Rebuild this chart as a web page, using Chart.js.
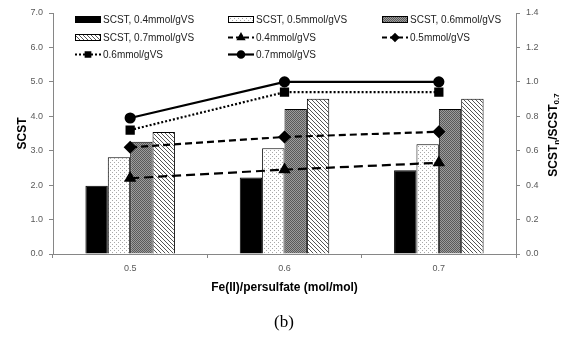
<!DOCTYPE html>
<html>
<head>
<meta charset="utf-8">
<script src="https://cdn.jsdelivr.net/npm/chart.js@4"></script>
<style>
  html, body { margin: 0; padding: 0; background: #fff; }
  #wrap { width: 580px; height: 344px; }
</style>
</head>
<body>
<div id="wrap"><canvas id="myChart"></canvas></div>
<script>
const categories = ['0.5', '0.6', '0.7'];
const scst04 = [1.98, 2.22, 2.43];
const scst05 = [2.81, 3.07, 3.19];
const scst06 = [3.26, 4.21, 4.21];
const scst07 = [3.54, 4.51, 4.51];
const ratio04 = [0.44, 0.49, 0.53];
const ratio05 = [0.62, 0.68, 0.71];
const ratio06 = [0.72, 0.94, 0.94];
const ratio07 = [0.79, 1.00, 1.00];
const leftTicks = [0, 1, 2, 3, 4, 5, 6, 7];
const rightTicks = [0, 0.2, 0.4, 0.6, 0.8, 1.0, 1.2, 1.4];

const font = "'Liberation Sans', Arial, sans-serif";
const tickColor = '#595959';
const axisColor = '#868686';

function makePattern(size, draw) {
  const c = document.createElement('canvas');
  c.width = size; c.height = size;
  const g = c.getContext('2d');
  draw(g);
  return g.createPattern(c, 'repeat');
}
const dotted = makePattern(4, g => {
  g.fillStyle = '#fff'; g.fillRect(0, 0, 4, 4);
  g.fillStyle = '#a8a8a8';
  g.fillRect(0, 0, 1, 1); g.fillRect(2, 2, 1, 1);
});
const grayCheck = makePattern(2, g => {
  g.fillStyle = '#9c9c9c'; g.fillRect(0, 0, 2, 2);
  g.fillStyle = '#5a5a5a';
  g.fillRect(0, 0, 1, 1); g.fillRect(1, 1, 1, 1);
});
const hatched = makePattern(4, g => {
  g.fillStyle = '#fff'; g.fillRect(0, 0, 4, 4);
  g.fillStyle = '#555';
  for (let i = 0; i < 4; i++) g.fillRect(i, i, 1, 1);
});

function lineSet(label, data, dash, style, radius) {
  return {
    type: 'line', label, data, yAxisID: 'y1', order: 0,
    borderColor: '#000', backgroundColor: '#000', borderWidth: 2.2,
    borderDash: dash, pointStyle: style, pointRadius: radius,
    pointBorderColor: '#000', pointBackgroundColor: '#000', fill: false
  };
}
function barSet(label, data, bg) {
  return {
    type: 'bar', label, data, yAxisID: 'y', order: 1,
    backgroundColor: bg, borderColor: '#000', borderWidth: 1,
    barPercentage: 1.0, categoryPercentage: 0.58
  };
}

const datasets = [
  barSet('SCST, 0.4mmol/gVS', scst04, '#000'),
  barSet('SCST, 0.5mmol/gVS', scst05, dotted),
  barSet('SCST, 0.6mmol/gVS', scst06, grayCheck),
  barSet('SCST, 0.7mmol/gVS', scst07, hatched),
  lineSet('0.4mmol/gVS', ratio04, [9, 5], 'triangle', 5),
  lineSet('0.5mmol/gVS', ratio05, [7, 4], 'rectRot', 5),
  lineSet('0.6mmol/gVS', ratio06, [2, 2], 'rect', 5),
  lineSet('0.7mmol/gVS', ratio07, [], 'circle', 4.5)
];

// legend drawn in three fixed columns inside the plot area
const legendPlugin = {
  id: 'gridLegend',
  afterDraw(chart) {
    const ctx = chart.ctx;
    const cols = [75, 228, 382];
    const rows = [19, 37, 54];
    ctx.save();
    chart.data.datasets.forEach((ds, i) => {
      const x = cols[i % 3], y = rows[Math.floor(i / 3)];
      if (ds.type === 'bar') {
        ctx.fillStyle = ds.backgroundColor;
        ctx.fillRect(x, y - 3, 26, 7);
        ctx.strokeStyle = '#000'; ctx.lineWidth = 1;
        ctx.strokeRect(x + 0.5, y - 2.5, 25, 6);
      } else {
        ctx.strokeStyle = '#000'; ctx.lineWidth = 2.2;
        ctx.setLineDash(ds.borderDash.length ? [5, 3] : []);
        if (ds.pointStyle === 'rect') ctx.setLineDash([2, 2]);
        ctx.beginPath(); ctx.moveTo(x, y + 0.5); ctx.lineTo(x + 26, y + 0.5); ctx.stroke();
        ctx.setLineDash([]);
        ctx.fillStyle = '#000';
        Chart.helpers.drawPoint(ctx, {
          pointStyle: ds.pointStyle, radius: 3.2, borderWidth: 1
        }, x + 13, y + 0.5);
        ctx.fill();
      }
      ctx.fillStyle = '#222';
      ctx.font = '10px ' + font;
      ctx.textBaseline = 'middle';
      ctx.fillText(ds.label, x + 28, y + 1);
    });

    // right axis title with subscripts
    ctx.translate(553, 135);
    ctx.rotate(-Math.PI / 2);
    const parts = [['SCST', 12, 0], ['n', 8, 3], ['/SCST', 12, 0], ['0.7', 8, 3]];
    let w = 0;
    parts.forEach(p => { ctx.font = 'bold ' + p[1] + 'px ' + font; w += ctx.measureText(p[0]).width; });
    let px = -w / 2;
    ctx.fillStyle = '#000';
    ctx.textBaseline = 'middle';
    parts.forEach(p => {
      ctx.font = 'bold ' + p[1] + 'px ' + font;
      ctx.fillText(p[0], px, p[2] + 0.5);
      px += ctx.measureText(p[0]).width;
    });
    ctx.restore();

    ctx.save();
    ctx.fillStyle = '#000';
    ctx.font = "17px 'Liberation Serif', 'Times New Roman', serif";
    ctx.textAlign = 'center';
    ctx.textBaseline = 'middle';
    ctx.fillText('(b)', 284, 323);
    ctx.restore();
  }
};

const chart = document.getElementById('myChart');

new Chart(chart, {
  data: { labels: categories, datasets },
  plugins: [legendPlugin],
  options: {
    responsive: true,
    maintainAspectRatio: false,
    animation: false,
    layout: { padding: { top: 13, bottom: 49, left: 0, right: 0 } },
    plugins: { legend: { display: false }, tooltip: { enabled: false } },
    scales: {
      x: {
        afterFit: s => { s.height = 41; },
        grid: { drawOnChartArea: false, tickLength: 4, color: axisColor, offset: true },
        border: { color: axisColor },
        ticks: { color: tickColor, font: { family: font, size: 9 }, padding: 5 },
        title: {
          display: true, text: 'Fe(II)/persulfate (mol/mol)', color: '#000',
          font: { family: font, size: 12, weight: 'bold' }, padding: 0
        }
      },
      y: {
        position: 'left', min: 0, max: 7,
        afterFit: s => { s.width = 53; },
        afterBuildTicks: s => { s.ticks = leftTicks.map(v => ({ value: v })); },
        grid: { drawOnChartArea: false, tickLength: 4, color: axisColor },
        border: { color: axisColor },
        ticks: { color: tickColor, font: { family: font, size: 9 }, padding: 6,
                 callback: v => v.toFixed(1) },
        title: {
          display: true, text: 'SCST', color: '#000',
          font: { family: font, size: 12, weight: 'bold' }, padding: { top: 15, bottom: 0 }
        }
      },
      y1: {
        position: 'right', min: 0, max: 1.4,
        afterFit: s => { s.width = 64; },
        afterBuildTicks: s => { s.ticks = rightTicks.map(v => ({ value: v })); },
        grid: { drawOnChartArea: false, tickLength: 4, color: axisColor },
        border: { color: axisColor },
        ticks: { color: tickColor, font: { family: font, size: 9 }, padding: 6,
                 callback: v => v.toFixed(1) }
      }
    }
  }
});
</script>
</body>
</html>
